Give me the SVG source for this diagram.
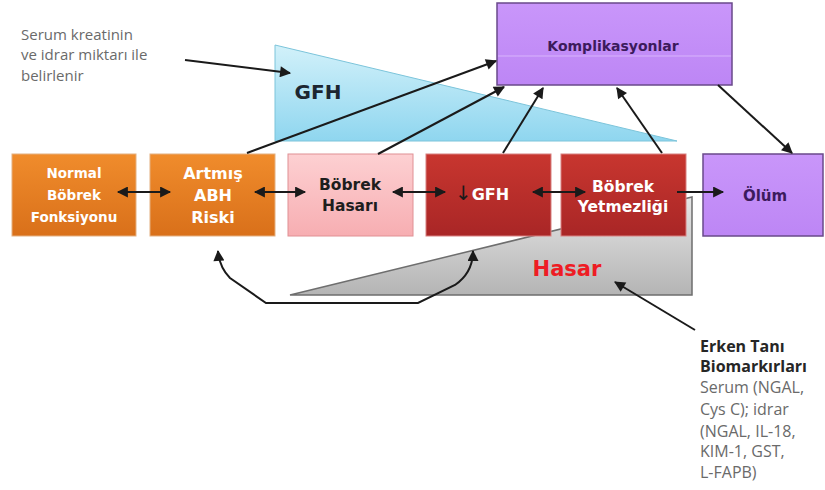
<svg xmlns="http://www.w3.org/2000/svg" width="825" height="490" viewBox="0 0 825 490">
  <defs>
    <linearGradient id="gOrange" x1="0" y1="0" x2="0" y2="1">
      <stop offset="0" stop-color="#f08c2c"/>
      <stop offset="1" stop-color="#d9701a"/>
    </linearGradient>
    <linearGradient id="gRed" x1="0" y1="0" x2="0" y2="1">
      <stop offset="0" stop-color="#c8362f"/>
      <stop offset="1" stop-color="#a92626"/>
    </linearGradient>
    <linearGradient id="gPink" x1="0" y1="0" x2="0" y2="1">
      <stop offset="0" stop-color="#fdd0d2"/>
      <stop offset="1" stop-color="#f7aeb2"/>
    </linearGradient>
    <linearGradient id="gPurple" x1="0" y1="0" x2="0" y2="1">
      <stop offset="0" stop-color="#c996fa"/>
      <stop offset="1" stop-color="#bd86f5"/>
    </linearGradient>
    <linearGradient id="gBlue" x1="0" y1="0" x2="0" y2="1">
      <stop offset="0" stop-color="#d2f1fa"/>
      <stop offset="1" stop-color="#8fd6ef"/>
    </linearGradient>
    <linearGradient id="gGray" x1="0" y1="0" x2="0" y2="1">
      <stop offset="0" stop-color="#e6e6e6"/>
      <stop offset="1" stop-color="#b4b4b4"/>
    </linearGradient>
    <marker id="ah" viewBox="0 0 10 10" refX="9" refY="5" markerWidth="6" markerHeight="5.5" orient="auto-start-reverse" markerUnits="strokeWidth">
      <path d="M0,0 L10,5 L0,10 z" fill="#1a1a1a"/>
    </marker>
    <style>
      .box-o { fill: url(#gOrange); stroke: #e4b080; stroke-width: 1; }
      .box-r { fill: url(#gRed); stroke: #d88080; stroke-width: 1; }
      .box-p { fill: url(#gPink); stroke: #e09094; stroke-width: 1; }
      .box-v { fill: url(#gPurple); stroke: #6a4a8a; stroke-width: 1.5; }
      .lbl { font-family: "DejaVu Sans", "Liberation Sans", sans-serif; font-weight: bold; text-anchor: middle; }
      .w { fill: #ffffff; }
      .dk { fill: #1e1e1e; }
      .pv { fill: #3c1a5c; }
      .note { font-family: "Open Sans", "Liberation Sans", sans-serif; font-size: 15px; fill: #6a6a6a; }
      .note-b { font-family: "Open Sans", "Liberation Sans", sans-serif; font-size: 16px; fill: #6a6a6a; }
      .conn { fill: none; stroke: #1a1a1a; stroke-width: 2; }
    </style>
  </defs>

  <rect width="825" height="490" fill="#ffffff"/>

  <!-- GFH wedge -->
  <g id="gfh-wedge">
    <polygon points="275,45 275,141 677,141" fill="url(#gBlue)" stroke="#7cc4da" stroke-width="1"/>
    <text x="318" y="99" class="lbl" font-size="20" style="fill:#1c2630">GFH</text>
  </g>

  <!-- Hasar wedge -->
  <g id="hasar-wedge">
    <polygon points="290,295 692,197 692,295" fill="url(#gGray)" stroke="#6e6e6e" stroke-width="1.5"/>
    <text x="567" y="276" class="lbl" font-size="21" fill="#ee1c24">Hasar</text>
  </g>

  <!-- Annotation texts -->
  <g id="note-gfh">
    <text class="note" x="21" y="40">Serum kreatinin</text>
    <text class="note" x="21" y="60">ve idrar miktarı ile</text>
    <text class="note" x="21" y="81">belirlenir</text>
  </g>
  <g id="note-biomarkers">
    <text class="note-b" x="700" y="352" style="font-weight:bold;fill:#262626">Erken Tanı</text>
    <text class="note-b" x="700" y="372" style="font-weight:bold;fill:#262626">Biomarkırları</text>
    <text class="note-b" x="700" y="393">Serum (NGAL,</text>
    <text class="note-b" x="700" y="415">Cys C); idrar</text>
    <text class="note-b" x="700" y="437">(NGAL, IL-18,</text>
    <text class="note-b" x="700" y="457">KIM-1, GST,</text>
    <text class="note-b" x="700" y="478">L-FAPB)</text>
  </g>

  <!-- Stage nodes -->
  <g id="normal">
    <rect class="box-o" x="12" y="154" width="124" height="82"/>
    <text class="lbl w" font-size="13.5" x="74" y="178">Normal</text>
    <text class="lbl w" font-size="13.5" x="74" y="200">Böbrek</text>
    <text class="lbl w" font-size="13.5" x="74" y="222">Fonksiyonu</text>
  </g>
  <g id="artmis">
    <rect class="box-o" x="150" y="154" width="125" height="82"/>
    <text class="lbl w" font-size="16" x="213" y="179">Artmış</text>
    <text class="lbl w" font-size="16" x="213" y="201">ABH</text>
    <text class="lbl w" font-size="16" x="213" y="223">Riski</text>
  </g>
  <g id="hasari">
    <rect class="box-p" x="288" y="154" width="125" height="82"/>
    <text class="lbl dk" font-size="15.5" x="350" y="190">Böbrek</text>
    <text class="lbl dk" font-size="15.5" x="350" y="211">Hasarı</text>
  </g>
  <g id="gfh-low">
    <rect class="box-r" x="426" y="154" width="125" height="82"/>
    <text class="lbl w" font-size="16" x="482" y="200"><tspan fill="#1a1a1a" font-size="20" font-weight="normal">↓</tspan>GFH</text>
  </g>
  <g id="yetmezlik">
    <rect class="box-r" x="561" y="154" width="125" height="82"/>
    <text class="lbl w" font-size="15.5" x="623" y="192">Böbrek</text>
    <text class="lbl w" font-size="15.5" x="623" y="212">Yetmezliği</text>
  </g>
  <g id="olum">
    <rect class="box-v" x="703" y="154" width="120" height="82"/>
    <text class="lbl pv" font-size="15" x="765" y="201">Ölüm</text>
  </g>
  <g id="komplikasyon">
    <rect class="box-v" x="497" y="3" width="235" height="82"/>
    <line x1="498" y1="56" x2="731" y2="56" stroke="#d8b4fc" stroke-width="1"/>
    <text class="lbl pv" font-size="14" x="613" y="51">Komplikasyonlar</text>
  </g>

  <!-- Connectors -->
  <g id="connectors" class="conn">
    <line x1="185" y1="60" x2="290" y2="73" marker-end="url(#ah)"/>
    <line x1="247" y1="153" x2="496" y2="61" marker-end="url(#ah)"/>
    <line x1="378" y1="154" x2="504" y2="87" marker-end="url(#ah)"/>
    <line x1="503" y1="153" x2="543" y2="88" marker-end="url(#ah)"/>
    <line x1="662" y1="153" x2="617" y2="88" marker-end="url(#ah)"/>
    <line x1="718" y1="85" x2="792" y2="153" marker-end="url(#ah)"/>

    <line x1="118" y1="192" x2="170" y2="192" marker-start="url(#ah)" marker-end="url(#ah)"/>
    <line x1="255" y1="192" x2="305" y2="192" marker-start="url(#ah)" marker-end="url(#ah)"/>
    <line x1="393" y1="192" x2="445" y2="192" marker-start="url(#ah)" marker-end="url(#ah)"/>
    <line x1="533" y1="192" x2="585" y2="192" marker-start="url(#ah)" marker-end="url(#ah)"/>
    <line x1="677" y1="192" x2="723" y2="192" marker-end="url(#ah)"/>

    <line x1="695" y1="330" x2="615" y2="282" marker-end="url(#ah)"/>

    <path d="M218,251 C219,262 222,270 230,278 L266,303 L418,303 L455,285 C468,276 473,265 473,251" marker-start="url(#ah)" marker-end="url(#ah)"/>
  </g>
</svg>
